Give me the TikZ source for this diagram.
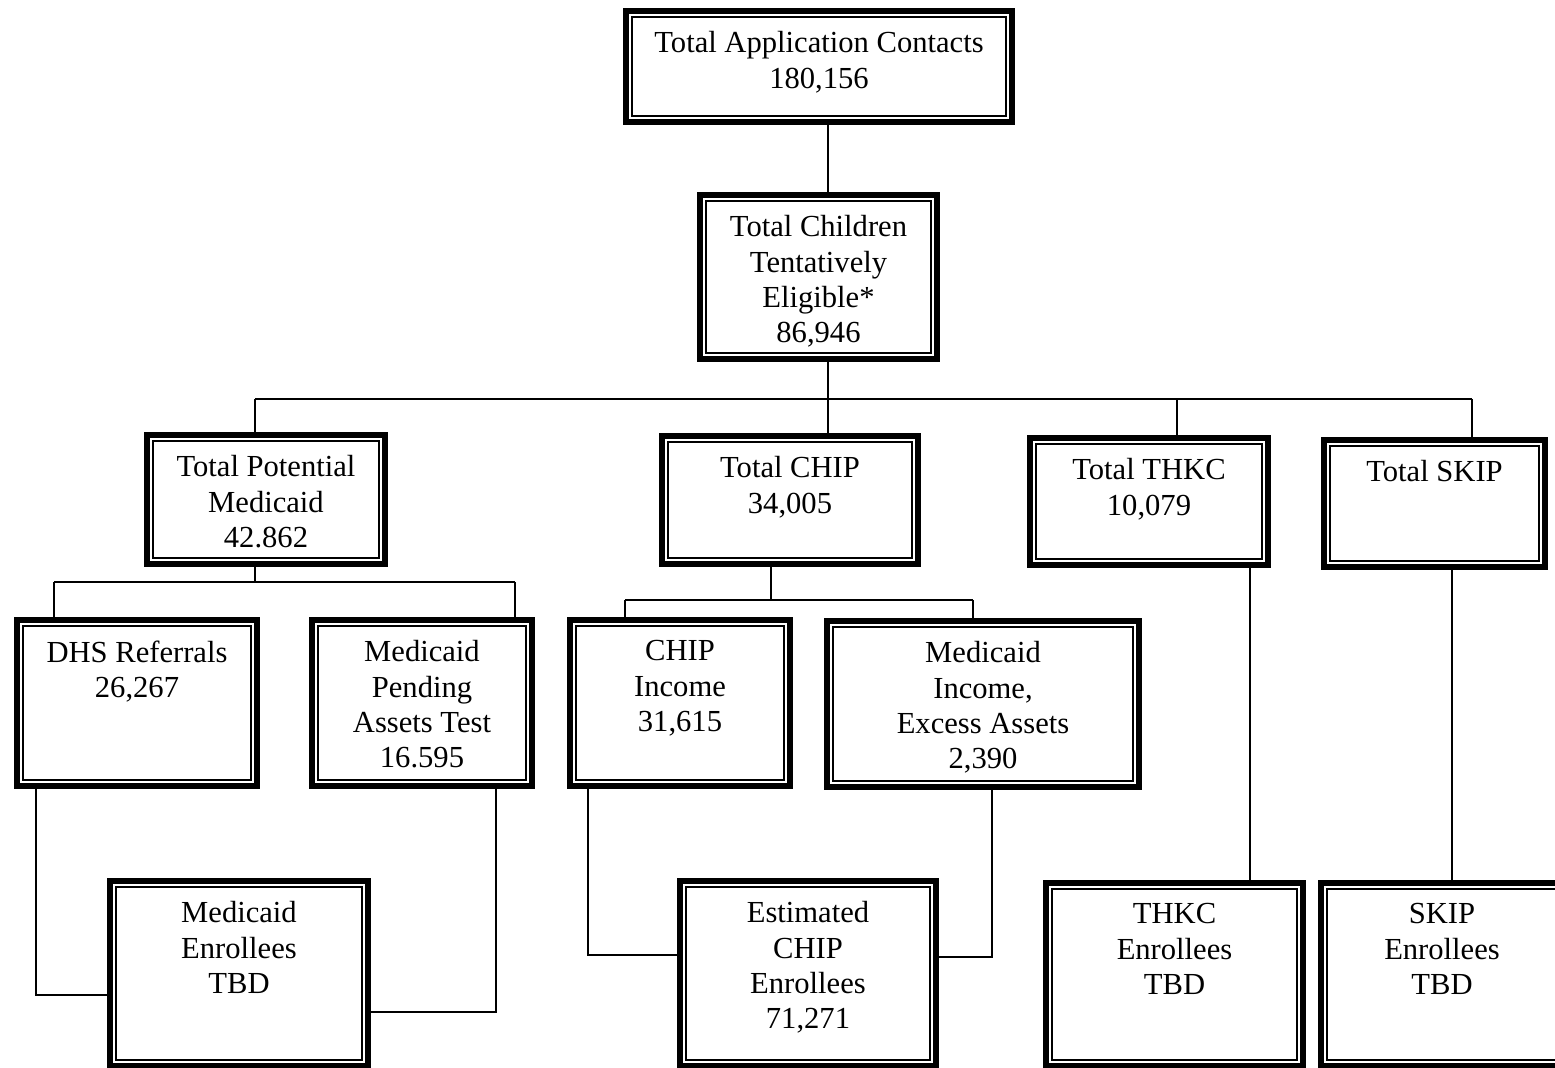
\documentclass[tikz,border=0pt]{standalone}
\usepackage{fontspec}
\setmainfont{Liberation Serif}
\usetikzlibrary{calc}

\tikzset{
  frame box/.style={draw, line width=1.7pt, inner sep=0pt},
  box text/.style={anchor=north, yshift=-0.23cm, inner sep=0pt, align=center,
    font=\fontsize{8.7}{10}\selectfont},
  link/.style={line width=0.6pt}
}

\begin{document}
\begin{tikzpicture}[x=0.01cm, y=-0.01cm]
  \useasboundingbox (0,0) rectangle (1555,1068);
  \clip (0,0) rectangle (1555,1068);

  % top levels
  \node[frame box, minimum width=3.86cm, minimum height=1.11cm,
        label={[box text]north:{Total Application Contacts\\180,156}}] (apc) at (819,66.5) {};
  \node[frame box, minimum width=2.37cm, minimum height=1.64cm,
        label={[box text]north:{Total Children\\Tentatively\\Eligible*\\86,946}}] (elig) at (818.5,277) {};

  % program totals
  \node[frame box, minimum width=2.38cm, minimum height=1.29cm,
        label={[box text]north:{Total Potential\\Medicaid\\42.862}}] (pmed) at (266,499.5) {};
  \node[frame box, minimum width=2.56cm, minimum height=1.28cm,
        label={[box text]north:{Total CHIP\\34,005}}] (chip) at (790,500) {};
  \node[frame box, minimum width=2.38cm, minimum height=1.27cm,
        label={[box text]north:{Total THKC\\10,079}}] (thkc) at (1149,501.5) {};
  \node[frame box, minimum width=2.21cm, minimum height=1.27cm,
        label={[box text]north:{Total SKIP}}] (skip) at (1434.5,503.5) {};

  % split
  \node[frame box, minimum width=2.40cm, minimum height=1.66cm,
        label={[box text]north:{DHS Referrals\\26,267}}] (dhs) at (137,703) {};
  \node[frame box, minimum width=2.20cm, minimum height=1.66cm,
        label={[box text]north:{Medicaid\\Pending\\Assets Test\\16.595}}] (pend) at (422,703) {};
  \node[frame box, minimum width=2.20cm, minimum height=1.66cm,
        label={[box text]north:{CHIP\\Income\\31,615}}] (cinc) at (680,703) {};
  \node[frame box, minimum width=3.12cm, minimum height=1.66cm,
        label={[box text]north:{Medicaid\\Income,\\Excess Assets\\2,390}}] (minc) at (983,704) {};

  % enrollees
  \node[frame box, minimum width=2.58cm, minimum height=1.85cm,
        label={[box text]north:{Medicaid\\Enrollees\\TBD}}] (menr) at (239,973.5) {};
  \node[frame box, minimum width=2.56cm, minimum height=1.85cm,
        label={[box text]north:{Estimated\\CHIP\\Enrollees\\71,271}}] (cenr) at (808,973.5) {};
  \node[frame box, minimum width=2.57cm, minimum height=1.83cm,
        label={[box text]north:{THKC\\Enrollees\\TBD}}] (tenr) at (1174.5,974.5) {};
  \node[frame box, minimum width=2.42cm, minimum height=1.83cm,
        label={[box text]north:{SKIP\\Enrollees\\TBD}}] (senr) at (1442,974.5) {};

  % inner frame lines
  \foreach \n in {apc,elig,pmed,chip,thkc,skip,dhs,pend,cinc,minc,menr,cenr,tenr,senr}
    \draw[line width=0.45pt] ($(\n.north west)+(2.6pt,-2.6pt)$) rectangle
                             ($(\n.south east)+(-2.6pt,2.6pt)$);

  % junction points
  \coordinate (b0) at (828,399);
  \coordinate (b1) at (255,399);
  \coordinate (b2) at (1177,399);
  \coordinate (b3) at (1472,399);
  \coordinate (m0) at (255,582);
  \coordinate (m1) at (54,582);
  \coordinate (m2) at (515,582);
  \coordinate (c0) at (771,600);
  \coordinate (c1) at (625,600);
  \coordinate (c2) at (973,600);
  \coordinate (l1) at (36,995);
  \coordinate (l2) at (496,1012);
  \coordinate (l3) at (588,955);
  \coordinate (l4) at (992,957);
  \coordinate (l5) at (1250,0);
  \coordinate (l6) at (1452,0);

  \begin{scope}[link]
    \draw (apc.south -| b0) -- (elig.north -| b0);
    \draw (elig.south -| b0) -- (b0);
    \draw (b1) -- (b3);
    \draw (b1) -- (pmed.north -| b1);
    \draw (b0) -- (chip.north -| b0);
    \draw (b2) -- (thkc.north -| b2);
    \draw (b3) -- (skip.north -| b3);

    \draw (pmed.south -| m0) -- (m0);
    \draw (m1) -- (m2);
    \draw (m1) -- (dhs.north -| m1);
    \draw (m2) -- (pend.north -| m2);

    \draw (chip.south -| c0) -- (c0);
    \draw (c1) -- (c2);
    \draw (c1) -- (cinc.north -| c1);
    \draw (c2) -- (minc.north -| c2);

    \draw (dhs.south -| l1) |- (menr.west |- l1);
    \draw (pend.south -| l2) |- (menr.east |- l2);
    \draw (cinc.south -| l3) |- (cenr.west |- l3);
    \draw (minc.south -| l4) |- (cenr.east |- l4);
    \draw (thkc.south -| l5) -- (tenr.north -| l5);
    \draw (skip.south -| l6) -- (senr.north -| l6);
  \end{scope}
\end{tikzpicture}
\end{document}
